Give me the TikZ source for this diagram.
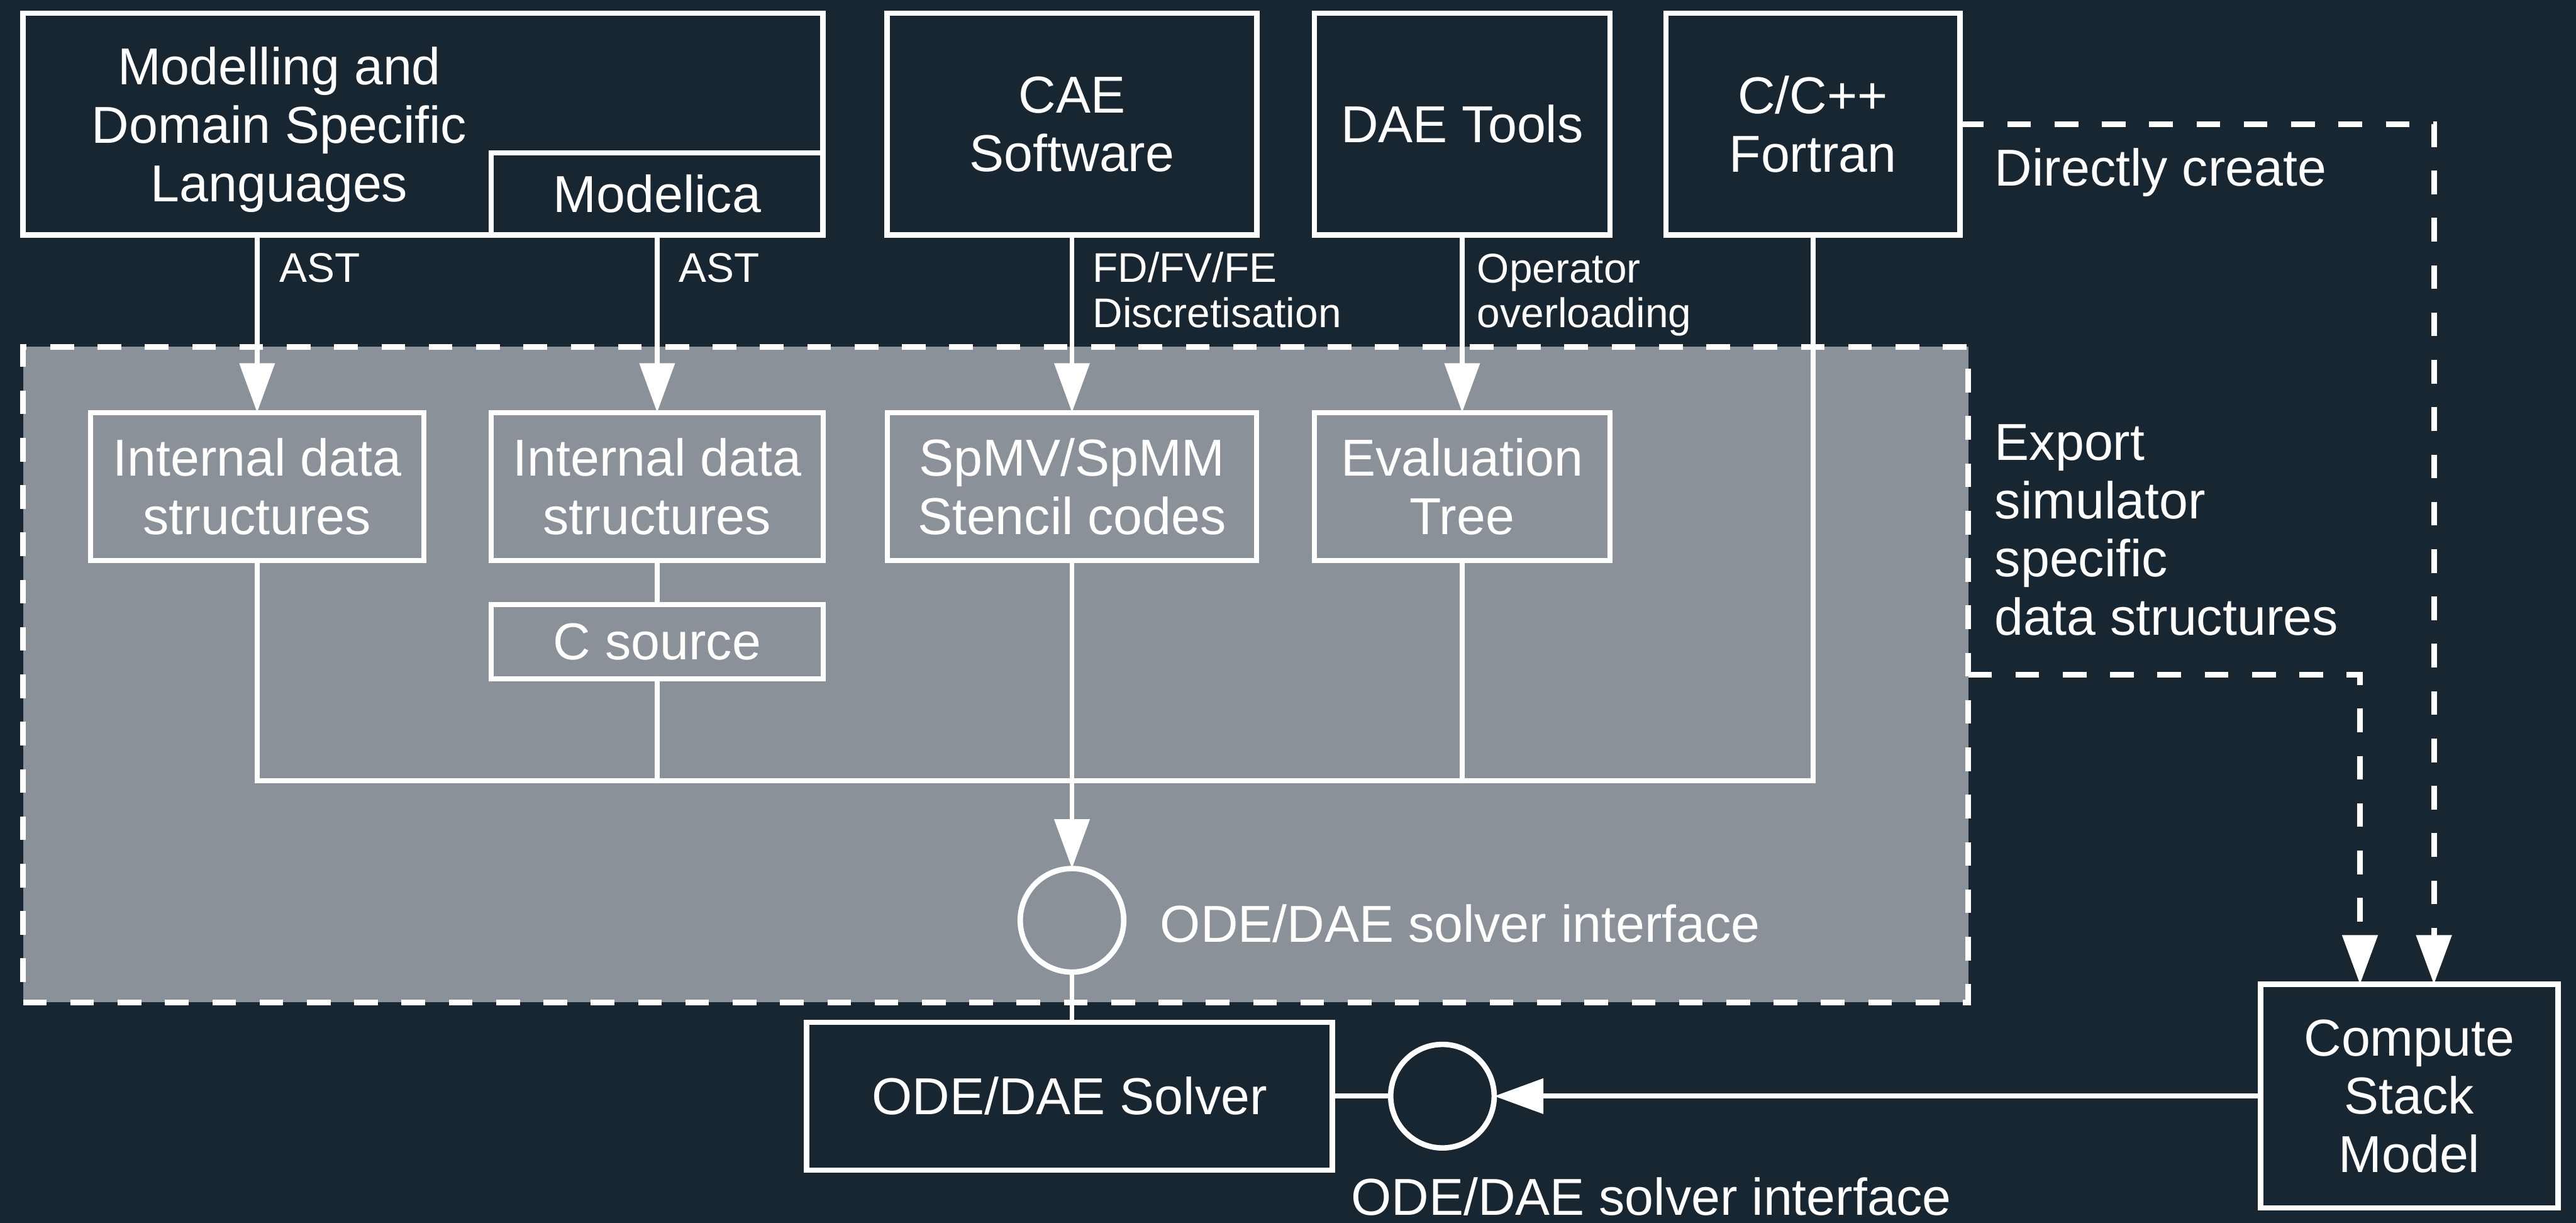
\documentclass[tikz,border=0pt]{standalone}
\usepackage{fontspec}
\setmainfont{Liberation Sans}
\usetikzlibrary{arrows.meta,calc}
\definecolor{bg}{HTML}{172631}
\definecolor{panelgray}{HTML}{8A9199}
\newcommand\dgbig{\fontsize{31.6pt}{35.5pt}\selectfont}
\newcommand\dgsmall{\fontsize{25.2pt}{27.5pt}\selectfont}
\begin{document}
\begin{tikzpicture}[x=1pt,y=-1pt,
  box/.style={draw=white, line width=3.3pt, fill=bg, text=white, inner sep=0pt, outer sep=0pt, align=center, font=\dgbig},
  ibox/.style={draw=white, line width=3pt, text=white, inner sep=0pt, outer sep=0pt, align=center, font=\dgbig},
  conn/.style={draw=white, line width=3pt},
  arr/.style={conn, -{Triangle[length=30pt,width=21pt]}},
  dconn/.style={draw=white, line width=3.5pt, dash pattern=on 14.4pt off 14.4pt, -{Triangle[length=30pt,width=21pt]}},
  lbl/.style={text=white, inner sep=0pt, align=left, font=\dgsmall, anchor=west},
  blbl/.style={text=white, inner sep=0pt, align=left, font=\dgbig, anchor=west},
  iface/.style={circle, draw=white, line width=3.3pt, minimum size=63pt, inner sep=0pt, outer sep=0pt}
]
\fill[bg] (0,0) rectangle (1568,744);
\useasboundingbox (0,0) rectangle (1568,744);

% grey panel
\node[draw=white, fill=panelgray, line width=3.5pt, dash pattern=on 14.4pt off 14.4pt,
      minimum width=1184pt, minimum height=399pt, inner sep=0pt, outer sep=0pt] (panel) at (606,410.5) {};

% top boxes
\node[box, minimum width=487pt, minimum height=135pt] (mdl) at (257.5,75.5) {};
\node[text=white, align=center, font=\dgbig, inner sep=0pt] (mdltxt) at (170,79) {Modelling and\\Domain Specific\\Languages};
\node[box, minimum width=202pt, minimum height=50pt] (modelica) at (400,118) {Modelica};
\node[box, minimum width=225pt, minimum height=135pt] (cae) at (652.5,75.5) {CAE\\Software};
\node[box, minimum width=180pt, minimum height=135pt] (dae) at (890,75.5) {DAE Tools};
\node[box, minimum width=179pt, minimum height=135pt] (cc) at (1103.5,75.5) {C/C++\\Fortran};

% inner boxes
\node[ibox, minimum width=203pt, minimum height=90pt] (ids1) at (156.5,296) {Internal data\\structures};
\node[ibox, minimum width=202pt, minimum height=90pt] (ids2) at (400,296) {Internal data\\structures};
\node[ibox, minimum width=202pt, minimum height=45pt] (csrc) at (400,390.5) {C source};
\node[ibox, minimum width=225pt, minimum height=90pt] (spmv) at (652.5,296) {SpMV/SpMM\\Stencil codes};
\node[ibox, minimum width=180pt, minimum height=90pt] (evt) at (890,296) {Evaluation\\Tree};

% interfaces and bottom boxes
\node[iface] (c1) at (652.5,560) {};
\node[box, minimum width=320pt, minimum height=90pt] (solver) at (651,667) {ODE/DAE Solver};
\node[iface] (c2) at (878,667) {};
\node[box, minimum width=181pt, minimum height=136pt] (csm) at (1466.5,667) {Compute\\Stack\\Model};

\coordinate (busy) at (0,475);

% arrows from top
\draw[arr] (ids1.north |- mdl.south) -- (ids1.north);
\draw[arr] (modelica.south) -- (ids2.north);
\draw[arr] (cae.south) -- (spmv.north);
\draw[arr] (dae.south) -- (evt.north);

% bus
\draw[conn] (ids1.south) -- (ids1.south |- busy) -- (cc.south |- busy) -- (cc.south);
\draw[conn] (ids2.south) -- (csrc.north);
\draw[conn] (csrc.south) -- (csrc.south |- busy);
\draw[conn] (evt.south) -- (evt.south |- busy);
\draw[arr] (spmv.south) -- (c1.north);
\draw[conn] (c1.south) -- (c1.south |- solver.north);

% solver interface
\draw[conn] (solver.east) -- (c2.west);
\draw[arr] (csm.west) -- (c2.east);

% dashed connectors
\draw[dconn] (cc.east) -| ([xshift=15pt]csm.north);
\draw[dconn] (panel.east) -| ([xshift=-30pt]csm.north);

% labels
\node[lbl] (l1) at (170,163) {AST};
\node[lbl] (l2) at (413,163) {AST};
\node[lbl] (l3) at (665,176.5) {FD/FV/FE\\Discretisation};
\node[lbl] (l4) at (899,179.5) {Operator\\overloading};
\node[blbl] (l5) at (1214,105) {Directly create};
\node[blbl] (l6) at (1214,322.5) {Export\\simulator\\specific\\data structures};
\node[blbl] (l7) at (706,562) {ODE/DAE solver interface};
\node[text=white, font=\dgbig, inner sep=0pt] (l8) at (1005,728) {ODE/DAE solver interface};
\end{tikzpicture}
\end{document}
